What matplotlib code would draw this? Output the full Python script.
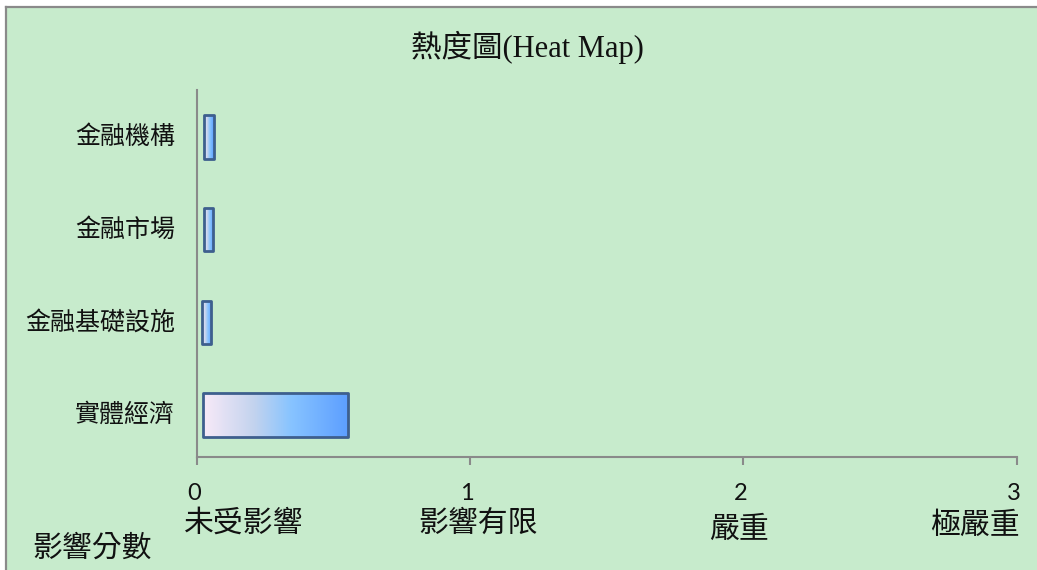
import matplotlib
matplotlib.use("Agg")
import matplotlib.pyplot as plt
import numpy as np
from matplotlib.colors import LinearSegmentedColormap
from matplotlib.patches import Rectangle
from matplotlib.transforms import blended_transform_factory, ScaledTranslation
from matplotlib.lines import Line2D

plt.rcParams['font.family'] = ['Noto Sans CJK TC', 'DejaVu Sans']

# Data
categories = ['實體經濟', '金融基礎設施', '金融市場', '金融機構']
bar_start = [0.023, 0.018, 0.025, 0.027]
scores = [0.554, 0.053, 0.060, 0.063]
tick_values = [0, 1, 2, 3]
level_labels = ['未受影響', '影響有限', '嚴重', '極嚴重']
title = '熱度圖(Heat Map)'
axis_name = '影響分數'

W, H = 1037, 570
fig = plt.figure(figsize=(W / 100, H / 100), dpi=100, facecolor='white')

bg = '#C7EBCC'
border = '#8A8A8A'
# chart area background with a grey frame on the left and top
fig.patches.append(Rectangle((5 / W, 0), 1 - 5 / W, 1 - 7 / H, transform=fig.transFigure,
                             facecolor=bg, edgecolor='none', zorder=-2))
fig.lines.append(Line2D([5.5 / W, 5.5 / W], [0, 1 - 6.5 / H], transform=fig.transFigure,
                        color=border, lw=1.6, zorder=-1))
fig.lines.append(Line2D([5.5 / W, 1], [1 - 6.5 / H, 1 - 6.5 / H], transform=fig.transFigure,
                        color=border, lw=1.6, zorder=-1))

ax_left, ax_right = 197 / W, 1016.7 / W
ax_bottom, ax_top = 1 - 457 / H, 1 - 90 / H
ax = fig.add_axes([ax_left, ax_bottom, ax_right - ax_left, ax_top - ax_bottom])
ax.set_facecolor('none')

cmap = LinearSegmentedColormap.from_list(
    'bar_grad', [(0, '#F8EAF8'), (0.35, '#C3D3EE'), (0.6, '#88C4FF'), (1, '#5C9EFF')])
grad = np.linspace(0, 1, 256).reshape(1, -1)

bar_h = 0.465
ypos = np.arange(len(categories))
for y, x0, x1 in zip(ypos, bar_start, scores):
    patch = Rectangle((x0, y - bar_h / 2), x1 - x0, bar_h,
                      facecolor='none', edgecolor='#3E5F8E', lw=2.0, zorder=3,
                      joinstyle='round')
    ax.add_patch(patch)
    im = ax.imshow(grad, cmap=cmap, aspect='auto', zorder=2,
                   extent=[x0, x1, y - bar_h / 2, y + bar_h / 2])
    im.set_clip_path(patch)

ax.set_xlim(0, 3)
ax.set_ylim(-0.453, 3.507)

for s in ['top', 'right']:
    ax.spines[s].set_visible(False)
for s in ['left', 'bottom']:
    ax.spines[s].set_color(border)
    ax.spines[s].set_linewidth(1.5)

ax.set_yticks([])
ax.set_xticks(tick_values)
ax.set_xticklabels([])
ax.tick_params(axis='x', length=6, width=1.5, color=border, direction='out')

# category labels to the left of the axis
for y, c in zip(ypos, categories):
    ax.text(-22 / 273.3, y, c, ha='right', va='center', fontsize=18, color='#111111')

# numeric ticks and level names under the axis
trans = blended_transform_factory(ax.transData, fig.transFigure)
shift = ScaledTranslation(-3 / 100, 0, fig.dpi_scale_trans)
for v in tick_values:
    ax.text(v, 1 - 493 / H, str(v), ha='center', va='center', fontsize=17,
            family='Lato', color='#111111', transform=trans + shift, clip_on=False)

level_x = [244, 478, 739, 975]
level_y = [523, 523, 529, 525]
for lx, ly, lab in zip(level_x, level_y, level_labels):
    fig.text(lx / W, 1 - ly / H, lab, ha='center', va='center', fontsize=21.5, color='#111111')

fig.text(92 / W, 1 - 548 / H, axis_name, ha='center', va='center', fontsize=21.5, color='#111111')

fig.text(527 / W, 1 - 47 / H, title, ha='center', va='center', fontsize=22,
         family=['Liberation Serif', 'Noto Sans CJK TC'], color='#111111')

fig.savefig('out.png', dpi=100, facecolor='white')
